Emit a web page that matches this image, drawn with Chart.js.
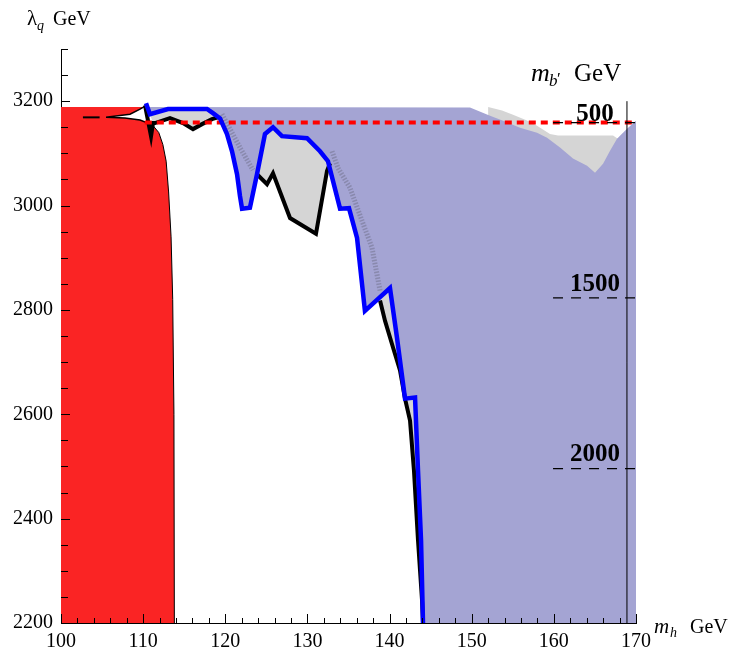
<!DOCTYPE html>
<html><head><meta charset="utf-8">
<script src="https://cdn.jsdelivr.net/npm/chart.js@4/dist/chart.umd.min.js"></script>
<style>html,body{margin:0;padding:0;background:#fff;}canvas{display:block;}</style>
</head><body>
<canvas id="c" width="730" height="653"></canvas>
<script>
// ---- axis ticks ----
const xLabelTicks = [100, 110, 120, 130, 140, 150, 160, 170];
const yLabelTicks = [2200, 2400, 2600, 2800, 3000, 3200];
const xMinorStep = 2;
const yMinorStep = 50;

// ---- data (m_h GeV, lambda_q GeV) ----
const excludedRed = [[100,2200],[100,3189],[110.0,3189],[110.4,3160],[111.0,3157],[111.9,3140],[112.4,3117],[112.8,3085],[113.1,3026],[113.4,2940],[113.6,2820],[113.75,2600],[113.8,2200]];
const redEdge = [[110.4,3160],[111.0,3157],[111.9,3140],[112.4,3117],[112.8,3085],[113.1,3026],[113.4,2940],[113.6,2820],[113.75,2600],[113.8,2200]];

const blueBoundary = [[110.35,3196],[110.83,3175],[113.03,3185],[117.77,3185],[118.5,3177],[119.36,3167],[120.21,3137],[120.82,3104],[121.43,3060],[121.79,3018],[122.04,2994],[123.0,2996],[123.86,3060],[124.83,3137],[125.81,3150],[126.9,3133],[129.95,3129],[131.53,3104],[132.5,3085],[133.97,2994],[135.06,2995],[136.04,2938],[137.0,2798],[140.05,2842],[140.9,2747],[141.88,2630],[143.1,2632],[143.46,2493],[143.83,2359],[144.07,2200]];

const purpleTop = [[110.35,3189],[149.79,3188],[152.23,3172],[153.81,3162.5],[155.88,3149],[157.95,3139.5],[159.17,3130],[160.75,3111],[162.33,3090],[164.04,3076.5],[165.01,3063],[165.99,3080],[166.84,3105],[167.69,3128],[168.91,3147],[170,3162.5],[170,2200]];

const grayTopRight = [[152.0,3189],[153.69,3182],[155.03,3174],[156.73,3163],[157.95,3153],[159.53,3137],[160.5,3134],[167.2,3134],[167.8,3128],[167.8,3000],[152.0,3000]];

const blackTopLeft = [[110.23,3192],[110.96,3133],[111.2,3158],[111.44,3158],[113.27,3167.5],[114.85,3158],[116.07,3146.5],[117.17,3156],[118.38,3165.6],[119.11,3169]];
const blackDip = [[123.86,3060],[125.08,3041],[125.81,3062],[127.88,2976],[131.04,2946],[132.38,3066],[132.75,3081]];
const blackTail = [[138.84,2818],[139.45,2779],[140.42,2728],[141.27,2684],[141.88,2630],[142.49,2588],[142.97,2492],[143.46,2359],[143.95,2244],[144.07,2200]];

const grayA = [[111.2,3158],[111.44,3158],[113.27,3167.5],[114.85,3158],[116.07,3146.5],[117.17,3156],[118.38,3165.6],[119.11,3169],[118.5,3177],[117.77,3185],[113.03,3185],[110.83,3175]];
const grayB = [[123.86,3060],[125.08,3041],[125.81,3062],[127.88,2976],[131.04,2946],[132.38,3066],[132.75,3081],[132.5,3085],[131.53,3104],[129.95,3129],[126.9,3133],[125.81,3150],[124.83,3137]];
const grayC = [[138.84,2818],[139.45,2779],[140.42,2728],[141.27,2684],[141.88,2630],[142.49,2588],[142.97,2492],[143.46,2359],[143.95,2244],[144.07,2200],[143.83,2359],[143.46,2493],[143.1,2632],[141.88,2630],[140.9,2747],[140.05,2842]];

const hatch1 = [[119.6,3175],[120.7,3143],[121.9,3108],[123.37,3068]];
const hatch2 = [[132.99,3104],[133.72,3072],[135.18,3034],[136.64,2971],[137.86,2919],[138.84,2837]];

const whiteWedge = [[105.48,3169.4],[108.4,3175],[109.62,3184.7],[110.23,3190.4],[110.59,3158],[109.62,3164],[107.79,3167.7],[105.48,3169.4]];
const blackDashLeft = [[102.67,3169],[104.7,3169]];

const redDotted = [[110.2,3159],[170,3159]];

// right-hand m_b' axis
const mbAxisLine = [[168.9,2200],[168.9,3200]];
const mbLabels = ['500', '1500', '2000'];
const mbLambda = [3159, 2823, 2496];
const mbDashFrom = 159.9;
const mbDashTo = 170;

// ---- helpers ----
const pts = a => a.map(([x, y]) => ({x, y}));
function area(points, color, order) {
  return {data: pts(points), backgroundColor: color, borderColor: 'rgba(0,0,0,0)', borderWidth: 1, fill: 'shape', order, pointRadius: 0, tension: 0};
}
function line(points, color, width, order, dash) {
  return {data: pts(points), borderColor: color, borderWidth: width, fill: false, order, pointRadius: 0, tension: 0, borderDash: dash || [], borderJoinStyle: 'miter'};
}

const RED = 'rgb(250,36,36)';
const PURPLE = 'rgb(164,164,211)';
const GRAY = 'rgb(213,213,213)';

const purplePoly = purpleTop.concat(blueBoundary.slice().reverse().slice(0, -1));

const datasets = [
  area(grayTopRight, GRAY, 100),
  area(purplePoly, PURPLE, 90),
  area(excludedRed, RED, 80),
  line(redEdge, '#000', 1, 79),
  area(grayA, GRAY, 70),
  area(grayB, GRAY, 70),
  area(grayC, GRAY, 70),
  Object.assign(area(whiteWedge, '#fff', 65), {borderColor: '#000', borderWidth: 1.5}),
  line(blackDashLeft, '#000', 2, 64),
  line(hatch1, 'rgba(110,110,135,0.5)', 5, 60, [1.5, 1.5]),
  line(hatch2, 'rgba(110,110,135,0.5)', 5, 60, [1.5, 1.5]),
  line(blackTopLeft, '#000', 4, 50),
  line(blackDip, '#000', 4, 50),
  line(blackTail, '#000', 4, 50),
  line(redDotted, '#ff0000', 4, 40, [7, 5]),
  line(blueBoundary, '#0000ff', 4.5, 30),
  line(mbAxisLine, '#000', 1, 20)
];
mbLambda.forEach(v => datasets.push(line([[mbDashFrom, v], [mbDashTo, v]], '#000', 1.2, 21, [10, 8])));

const SERIF = '"Liberation Serif", "DejaVu Serif", serif';

const decor = {
  id: 'decor',
  afterDatasetsDraw(chart) {
    const {ctx} = chart;
    const x = chart.scales.x, y = chart.scales.y;
    ctx.save();
    ctx.strokeStyle = '#000';
    ctx.lineWidth = 1;
    // x ticks (inward)
    for (let v = x.min; v <= x.max + 1e-9; v += xMinorStep) {
      const px = Math.round(x.getPixelForValue(v)) + 0.5;
      const len = xLabelTicks.includes(Math.round(v)) ? 9 : 5;
      ctx.beginPath(); ctx.moveTo(px, y.bottom); ctx.lineTo(px, y.bottom - len); ctx.stroke();
    }
    // y ticks (inward)
    for (let v = y.min; v <= y.max + 1e-9; v += yMinorStep) {
      const py = Math.round(y.getPixelForValue(v)) + 0.5;
      const len = yLabelTicks.includes(Math.round(v)) ? 9 : 7;
      ctx.beginPath(); ctx.moveTo(x.left, py); ctx.lineTo(x.left + len, py); ctx.stroke();
    }
    // right axis labels
    ctx.fillStyle = '#000';
    ctx.font = 'bold 25px ' + SERIF;
    ctx.textAlign = 'center';
    ctx.textBaseline = 'alphabetic';
    const lift = [2, 7, 8];
    mbLabels.forEach((t, i) => {
      ctx.fillText(t, x.getPixelForValue(165.0), y.getPixelForValue(mbLambda[i]) - lift[i]);
    });
    // axis titles
    ctx.textAlign = 'left';
    ctx.font = '21px ' + SERIF;
    ctx.fillText('λ', 27, 25);
    ctx.font = 'italic 14px ' + SERIF;
    ctx.fillText('q', 37, 30);
    ctx.font = '20px ' + SERIF;
    ctx.fillText('GeV', 53, 25);

    ctx.font = 'italic 21px ' + SERIF;
    ctx.fillText('m', 654, 633);
    ctx.font = 'italic 14px ' + SERIF;
    ctx.fillText('h', 670, 637);
    ctx.font = '20px ' + SERIF;
    ctx.fillText('GeV', 690, 633);

    ctx.font = 'italic 26px ' + SERIF;
    ctx.fillText('m', 531, 81);
    ctx.font = 'italic 17px ' + SERIF;
    ctx.fillText('b', 549, 86);
    ctx.font = '17px ' + SERIF;
    ctx.fillText('\u2032', 557, 84);
    ctx.font = '25px ' + SERIF;
    ctx.fillText('GeV', 574, 81);
    ctx.restore();
  }
};

new Chart(document.getElementById('c'), {
  type: 'line',
  data: {datasets},
  options: {
    responsive: false,
    animation: false,
    devicePixelRatio: 1,
    layout: {padding: {left: 0, right: 94, top: 49, bottom: 0}},
    plugins: {legend: {display: false}, tooltip: {enabled: false}},
    elements: {point: {radius: 0}, line: {tension: 0}},
    scales: {
      x: {
        type: 'linear', min: 100, max: 170,
        afterBuildTicks: s => { s.ticks = xLabelTicks.map(v => ({value: v})); },
        afterFit: s => { s.height = 30; },
        grid: {display: false, drawTicks: false},
        border: {display: true, color: '#000', width: 1},
        ticks: {autoSkip: false, maxRotation: 0, padding: 7, color: '#000', font: {family: SERIF, size: 20}, callback: v => String(v)}
      },
      y: {
        type: 'linear', min: 2200, max: 3300,
        afterBuildTicks: s => { s.ticks = yLabelTicks.map(v => ({value: v})); },
        afterFit: s => { s.width = 61; },
        grid: {display: false, drawTicks: false},
        border: {display: true, color: '#000', width: 1},
        ticks: {autoSkip: false, padding: 8, color: '#000', font: {family: SERIF, size: 20}, callback: v => String(v)}
      }
    }
  },
  plugins: [decor]
});
</script>
</body></html>
